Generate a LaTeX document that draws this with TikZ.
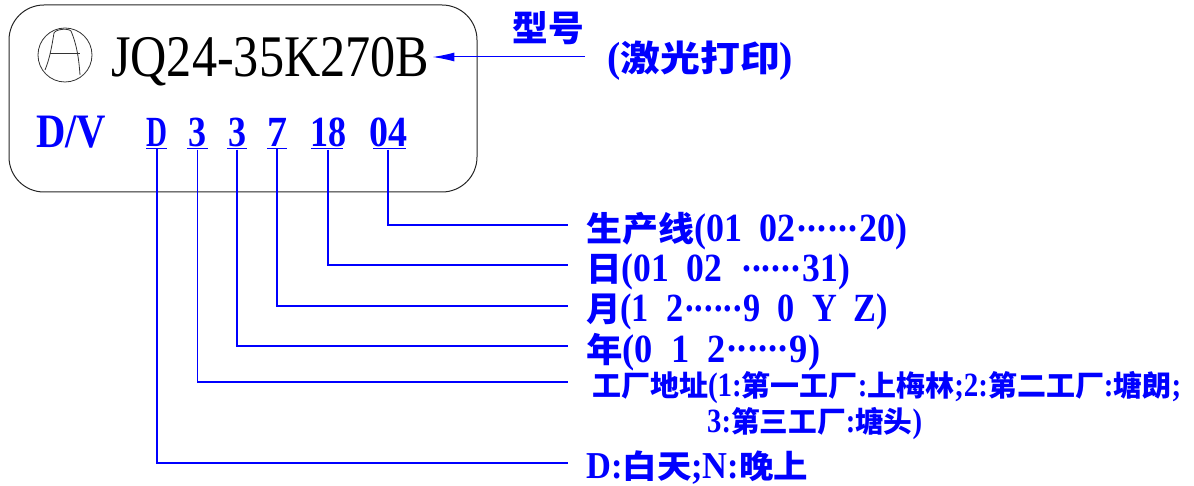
\documentclass[tikz,border=0pt]{standalone}
\usepackage{fontspec}
\usepackage{graphicx}
\setmainfont{Liberation Serif}[FakeStretch=0.85]
\newfontfamily\cjk[Scale=0.85]{Noto Sans CJK SC}
\usetikzlibrary{arrows.meta,calc}
\newcommand\cj[1]{{\cjk #1}}
\newcommand\gsp{\hspace{0.42em}}
\newcommand\gdots{\raisebox{0.26em}{\makebox[1.5em][s]{\hspace{0.05em}.\hfil.\hfil.\hfil.\hfil.\hfil.\hspace{0.05em}}}}
\begin{document}
\begin{tikzpicture}[x=1pt,y=-1pt,
  lbl/.style={anchor=base west, inner sep=0pt, text=blue, font=\bfseries},
  dig/.style={anchor=base, inner sep=0pt, text=blue, font=\fontsize{43}{43}\selectfont\bfseries},
  conn/.style={draw=blue, line width=1.1pt},
  uline/.style={draw=blue, line width=1pt},
  logoline/.style={draw=black!80, line width=0.8pt}]
\useasboundingbox (0,0) rectangle (1194,486);
% plate
\draw[line width=1pt, rounded corners=35pt, draw=black!85] (9,5) rectangle (477,192);
% logo
\node[circle, logoline, minimum size=54pt, inner sep=0pt] (logo) at (65,55) {};
\draw[logoline] (45,70) .. controls (50,58) and (52,45) .. (54,33)
  .. controls (56,29) and (68,28) .. (71,31)
  .. controls (77,45) and (79,60) .. (80,75);
\draw[logoline] (50,53) -- (80,53);
% model
\node[anchor=base west, inner sep=0pt] (model) at (111,77)
  {\resizebox{318pt}{\height}{\fontsize{59}{59}\selectfont JQ24-35K270B}};
\node[inner sep=0pt, text=blue, font=\cjk\fontsize{42}{42}\selectfont\bfseries] (xh) at (548,28.5) {型号};
\node[lbl] (jg) at (607,72)
  {\resizebox{186pt}{\height}{\fontsize{42}{42}\selectfont(\cj{激光打印})}};
\coordinate (aS) at (585,57);
\draw[blue, line width=1pt, -{Latex[length=22pt,width=9pt]}] (aS) -- ($(aS -| model.east)+(3,0)$);
% code line
\node[lbl] (dv) at (36,148) {\resizebox{70pt}{\height}{\fontsize{48}{48}\selectfont D/V}};
\node[dig] (d1) at (157,147) {\resizebox{21pt}{\height}{D}};
\node[dig] (d2) at (197.5,147) {\resizebox{18pt}{\height}{3}};
\node[dig] (d3) at (237,147) {\resizebox{18pt}{\height}{3}};
\node[dig] (d4) at (277,147) {\resizebox{20pt}{\height}{7}};
\node[dig] (d5) at (328,147) {\resizebox{36pt}{\height}{18}};
\node[dig] (d6) at (388,147) {\resizebox{38pt}{\height}{04}};
% underlines
\draw[uline] (146,149) -- (167,149);
\draw[uline] (187,149) -- (208,149);
\draw[uline] (227,149) -- (247,149);
\draw[uline] (267,149) -- (287,149);
\draw[uline] (311,149) -- (343,149);
\draw[uline] (373,149) -- (406,149);
% labels
\node[lbl] (l1) at (586,242) {\resizebox{321pt}{\height}{\fontsize{40}{40}\selectfont\cj{生产线}(01\gsp 02\gdots 20)}};
\node[lbl] (l2) at (586,282) {\resizebox{264pt}{\height}{\fontsize{40}{40}\selectfont\cj{日}(01\gsp 02\gsp\gdots 31)}};
\node[lbl] (l3) at (586,322) {\resizebox{302pt}{\height}{\fontsize{40}{40}\selectfont\cj{月}(1\gsp 2\gdots 9\gsp 0\gsp Y\gsp Z)}};
\node[lbl] (l4) at (586,362) {\resizebox{234pt}{\height}{\fontsize{40}{40}\selectfont\cj{年}(0\gsp 1\gsp 2\gdots 9)}};
\node[lbl] (l5) at (592,396) {\resizebox{589pt}{\height}{\fontsize{34}{34}\selectfont\cj{工厂地址}(1:\cj{第一工厂}:\cj{上梅林};2:\cj{第二工厂}:\cj{塘朗};}};
\node[lbl] (l6) at (707,432) {\resizebox{215pt}{\height}{\fontsize{34}{34}\selectfont 3:\cj{第三工厂}:\cj{塘头})}};
\node[lbl] (l7) at (586,478) {\resizebox{222pt}{\height}{\fontsize{38}{38}\selectfont D:\cj{白天};N:\cj{晚上}}};
% connectors
\coordinate (e1) at (568,463);
\coordinate (e2) at (568,382);
\coordinate (e3) at (568,346);
\coordinate (e4) at (568,306);
\coordinate (e5) at (568,265);
\coordinate (e6) at (568,225);
\draw[conn] ([yshift=-2pt]d1.south) |- (e1);
\draw[conn] ([yshift=-2pt]d2.south) |- (e2);
\draw[conn] ([yshift=-2pt]d3.south) |- (e3);
\draw[conn] ([yshift=-2pt]d4.south) |- (e4);
\draw[conn] ([yshift=-2pt]d5.south) |- (e5);
\draw[conn] ([yshift=-2pt]d6.south) |- (e6);
\end{tikzpicture}
\end{document}
